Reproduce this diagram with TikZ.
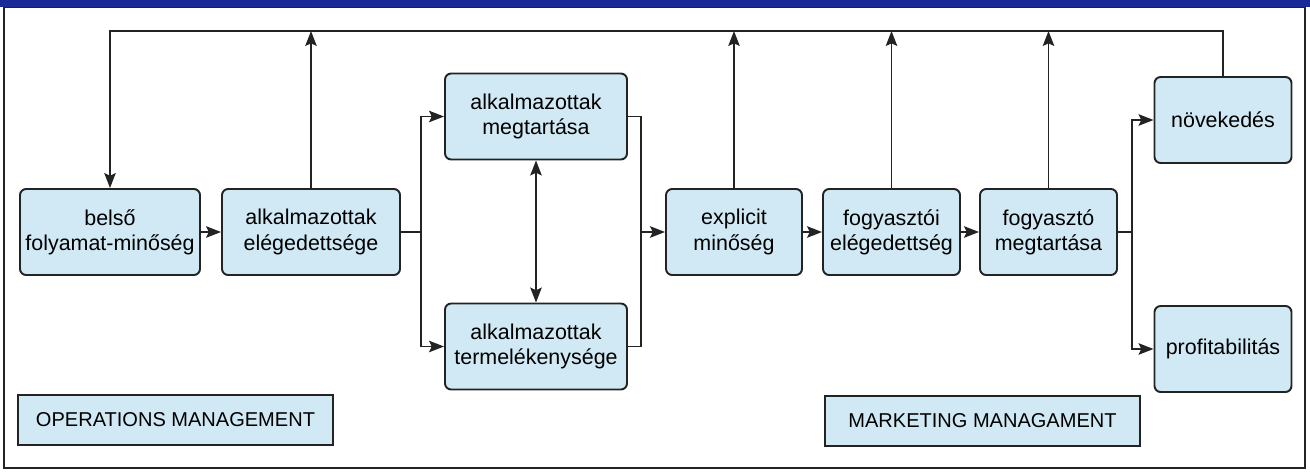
\documentclass[tikz,border=0pt]{standalone}
\usepackage{fontspec}
\setmainfont{Liberation Sans}
\usepackage{xcolor}
\definecolor{sqblue}{RGB}{24,42,150}
\definecolor{sqfill}{RGB}{208,233,244}
\definecolor{sqline}{RGB}{35,35,35}
\usepackage{tikz}
\usetikzlibrary{arrows.meta, positioning, calc}

\begin{document}
\begin{tikzpicture}[
    stage/.style={draw=sqline, fill=sqfill, line width=1.1pt, rounded corners=3.5pt,
                  minimum height=1.72cm, align=center, inner sep=2pt,
                  font=\fontsize{12.2}{14.4}\selectfont},
    area/.style={draw=sqline, fill=sqfill, line width=0.9pt, minimum width=6.3cm,
                 minimum height=1.0cm, font=\fontsize{11.4}{13}\selectfont},
    link/.style={sqline, line width=1.1pt},
    flow/.style={link, -{Stealth[length=8.5pt, width=6.5pt, inset=1.5pt]}},
    twoway/.style={link, {Stealth[length=8.5pt, width=6.5pt, inset=1.5pt]}-{Stealth[length=8.5pt, width=6.5pt, inset=1.5pt]}}]

\useasboundingbox (0,0) rectangle (26.2,-9.44);

% --- Frame and top band ---
\fill[sqblue] (0,0) rectangle (26.2,-0.15);
\draw[sqline, line width=0.9pt] (0.08,-0.15) rectangle (26.1,-9.36);

% --- Operations side ---
\node[stage, minimum width=3.6cm] (belso) at (2.2,-4.64) {belső\\folyamat-minőség};
\node[stage, minimum width=3.56cm] (elegedett) at (6.22,-4.64) {alkalmazottak\\elégedettsége};
\node[stage, minimum width=3.64cm] (alkmeg) at (10.72,-2.33) {alkalmazottak\\megtartása};
\node[stage, minimum width=3.64cm] (alkterm) at (10.72,-6.93) {alkalmazottak\\termelékenysége};

% --- Marketing side ---
\node[stage, minimum width=2.72cm] (explicit) at (14.68,-4.64) {explicit\\minőség};
\node[stage, minimum width=2.74cm] (fogyelg) at (17.83,-4.64) {fogyasztói\\elégedettség};
\node[stage, minimum width=2.74cm] (fogymeg) at (20.97,-4.64) {fogyasztó\\megtartása};
\node[stage, minimum width=2.74cm] (novek) at (24.46,-2.4) {növekedés};
\node[stage, minimum width=2.74cm] (profit) at (24.46,-6.98) {profitabilitás};

% --- Area labels ---
\node[area] (opmgmt) at (3.51,-8.4) {OPERATIONS MANAGEMENT};
\node[area] (mkmgmt) at (19.65,-8.42) {MARKETING MANAGAMENT};

% Junction points
\coordinate (loop) at (0,-0.62);
\coordinate (splitA) at (8.42,-4.64);
\coordinate (joinA) at (12.82,-4.64);
\coordinate (splitB) at (22.64,-4.64);

% Feedback loop along the top
\draw[flow] (novek.north) -- (novek.north |- loop) -- (belso.north |- loop) -- (belso.north);
\draw[flow] (elegedett.north) -- (elegedett.north |- loop);
\draw[flow] (explicit.north) -- (explicit.north |- loop);
\draw[flow] (fogyelg.north) -- (fogyelg.north |- loop);
\draw[flow] (fogymeg.north) -- (fogymeg.north |- loop);

% Main chain
\draw[flow] (belso) -- (elegedett);
\draw[link] (elegedett.east) -- (splitA);
\draw[flow] (splitA) |- (alkmeg.west);
\draw[flow] (splitA) |- (alkterm.west);
\draw[twoway] (alkmeg.south) -- (alkterm.north);
\draw[link] (alkmeg.east) -| (joinA);
\draw[link] (alkterm.east) -| (joinA);
\draw[flow] (joinA) -- (explicit.west);
\draw[flow] (explicit) -- (fogyelg);
\draw[flow] (fogyelg) -- (fogymeg);
\draw[link] (fogymeg.east) -- (splitB);
\draw[flow] (splitB) |- (novek.west);
\draw[flow] (splitB) |- (profit.west);

\end{tikzpicture}
\end{document}
